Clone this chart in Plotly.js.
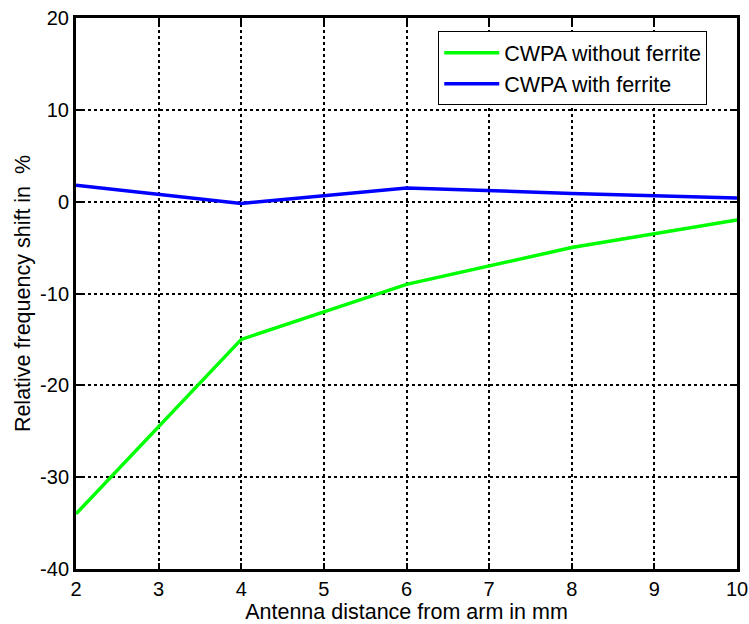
<!DOCTYPE html>
<html><head><meta charset="utf-8">
<script src="https://cdn.plot.ly/plotly-3.0.1.min.js"></script>
<style>html,body{margin:0;padding:0;background:#fff}</style>
</head><body>
<div id="chart" style="width:749px;height:624px"></div>
<script>
const xDist = [2, 4, 6, 8, 10];
const withoutFerrite = [-34, -15, -9, -5, -2];
const withFerrite = [1.8, -0.2, 1.5, 0.9, 0.4];
const seriesNames = ["CWPA without ferrite", "CWPA with ferrite"];
const xTicks = [2, 3, 4, 5, 6, 7, 8, 9, 10];
const xTickText = ["2", "3", "4", "5", "6", "7", "8", "9", "10"];
const yTicks = [-40, -30, -20, -10, 0, 10, 20];
const yTickText = ["-40", "-30", "-20", "-10", "0", "10", "20"];

const FONT = "Liberation Sans, Arial, sans-serif";
const traces = [
  {x: xDist, y: withoutFerrite, name: seriesNames[0], mode: "lines", line: {color: "#00ff00", width: 3.5}},
  {x: xDist, y: withFerrite, name: seriesNames[1], mode: "lines", line: {color: "#0000ff", width: 3.5}}
];
const axisCommon = {
  showline: true, linecolor: "#000", linewidth: 3, mirror: "ticks",
  ticks: "inside", ticklen: 6, tickwidth: 2, tickcolor: "#000",
  showgrid: true, gridcolor: "#000", gridwidth: 2, griddash: "dot",
  zeroline: false, tickmode: "array",
  tickfont: {family: FONT, size: 20, color: "#000"}
};
const layout = {
  width: 749, height: 624,
  margin: {l: 76, r: 12, t: 18, b: 55},
  paper_bgcolor: "#fff", plot_bgcolor: "#fff",
  showlegend: true,
  legend: {x: 0.955, y: 0.976, xanchor: "right", yanchor: "top",
    bgcolor: "#fff", bordercolor: "#000", borderwidth: 1,
    itemwidth: 55,
    font: {family: FONT, size: 21.5, color: "#000"},
    tracegroupgap: 0},
  xaxis: Object.assign({}, axisCommon, {range: [2, 10], tickvals: xTicks, ticktext: xTickText,
    title: {text: "Antenna distance from arm in mm", standoff: 1,
      font: {family: FONT, size: 21.5, color: "#000"}}}),
  yaxis: Object.assign({}, axisCommon, {range: [-40, 20], tickvals: yTicks, ticktext: yTickText,
    title: {text: "Relative frequency shift in\u00a0 %", standoff: 4,
      font: {family: FONT, size: 21.5, color: "#000"}}})
};
Plotly.newPlot("chart", traces, layout, {displayModeBar: false});
</script>
</body></html>
